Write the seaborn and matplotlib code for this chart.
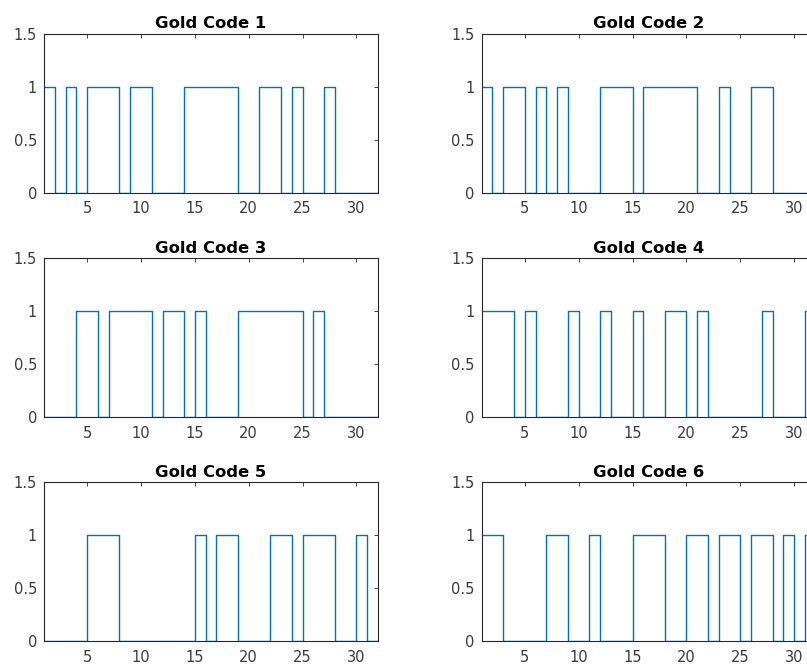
import matplotlib
matplotlib.use("Agg")
import matplotlib.pyplot as plt
import numpy as np
import pandas as pd
import seaborn as sns

# Chip values of each 31-chip Gold code (chip k spans [k, k+1])
gold_code_1 = [1, 0, 1, 0, 1, 1, 1, 0, 1, 1, 0, 0, 0, 1, 1, 1, 1, 1, 0, 0, 1, 1, 0, 1, 0, 0, 1, 0, 0, 0, 0]
gold_code_2 = [1, 0, 1, 1, 0, 1, 0, 1, 0, 0, 0, 1, 1, 1, 0, 1, 1, 1, 1, 1, 0, 0, 1, 0, 0, 1, 1, 0, 0, 0, 0]
gold_code_3 = [0, 0, 0, 1, 1, 0, 1, 1, 1, 1, 0, 1, 1, 0, 1, 0, 0, 0, 1, 1, 1, 1, 1, 1, 0, 1, 0, 0, 0, 0, 0]
gold_code_4 = [1, 1, 1, 0, 1, 0, 0, 0, 1, 0, 0, 1, 0, 0, 1, 0, 0, 1, 1, 0, 1, 0, 0, 0, 0, 0, 1, 0, 0, 0, 1]
gold_code_5 = [0, 0, 0, 0, 1, 1, 1, 0, 0, 0, 0, 0, 0, 0, 1, 0, 1, 1, 0, 0, 0, 1, 1, 0, 1, 1, 1, 0, 0, 1, 0]
gold_code_6 = [1, 1, 0, 0, 0, 0, 1, 1, 0, 0, 1, 0, 0, 0, 1, 1, 1, 0, 0, 1, 1, 0, 1, 1, 0, 1, 1, 0, 1, 0, 1]

codes = [gold_code_1, gold_code_2, gold_code_3, gold_code_4, gold_code_5, gold_code_6]
titles = ["Gold Code 1", "Gold Code 2", "Gold Code 3",
          "Gold Code 4", "Gold Code 5", "Gold Code 6"]
x_ticks = [5, 10, 15, 20, 25, 30]
y_ticks = [0, 0.5, 1, 1.5]
y_tick_labels = ["0", "0.5", "1", "1.5"]

sns.set_style("white")
plt.rcParams["font.family"] = ["DejaVu Sans"]

line_color = "#0072BD"
axis_color = "#262626"
label_color = "#3a3a3a"

fig = plt.figure(figsize=(8.07, 6.66), dpi=100)

# Axes rectangles: two columns, three rows (right column runs past the canvas edge)
col_left = [0.0545, 0.5969]
row_bottom = [0.7102, 0.3734, 0.0371]
ax_w, ax_h = 0.4139, 0.2387

for i, (bits, title) in enumerate(zip(codes, titles)):
    r, c = divmod(i, 2)
    ax = fig.add_axes([col_left[c], row_bottom[r], ax_w, ax_h])
    n = len(bits)
    df = pd.DataFrame({
        "chip": np.arange(1, n + 2),
        "value": list(bits) + [bits[-1]],
    })
    sns.lineplot(data=df, x="chip", y="value", ax=ax, drawstyle="steps-post",
                 color=line_color, linewidth=1.0, errorbar=None)
    ax.set_xlim(1, n + 1)
    ax.set_ylim(0, 1.5)
    ax.set_xticks(x_ticks)
    ax.set_yticks(y_ticks)
    ax.set_yticklabels(y_tick_labels)
    ax.set_xlabel("")
    ax.set_ylabel("")
    ax.set_title(title, fontsize=11.8, fontweight="bold", color="black", pad=4)
    ax.tick_params(direction="in", length=3, width=0.6, color=axis_color,
                   labelcolor=label_color, labelsize=10.5, top=True, right=True)
    ax.tick_params(axis="x", pad=6)
    ax.tick_params(axis="y", pad=5)
    for s in ax.spines.values():
        s.set_visible(True)
        s.set_color(axis_color)
        s.set_linewidth(0.8)

fig.savefig("out.png", dpi=100, facecolor="white")
